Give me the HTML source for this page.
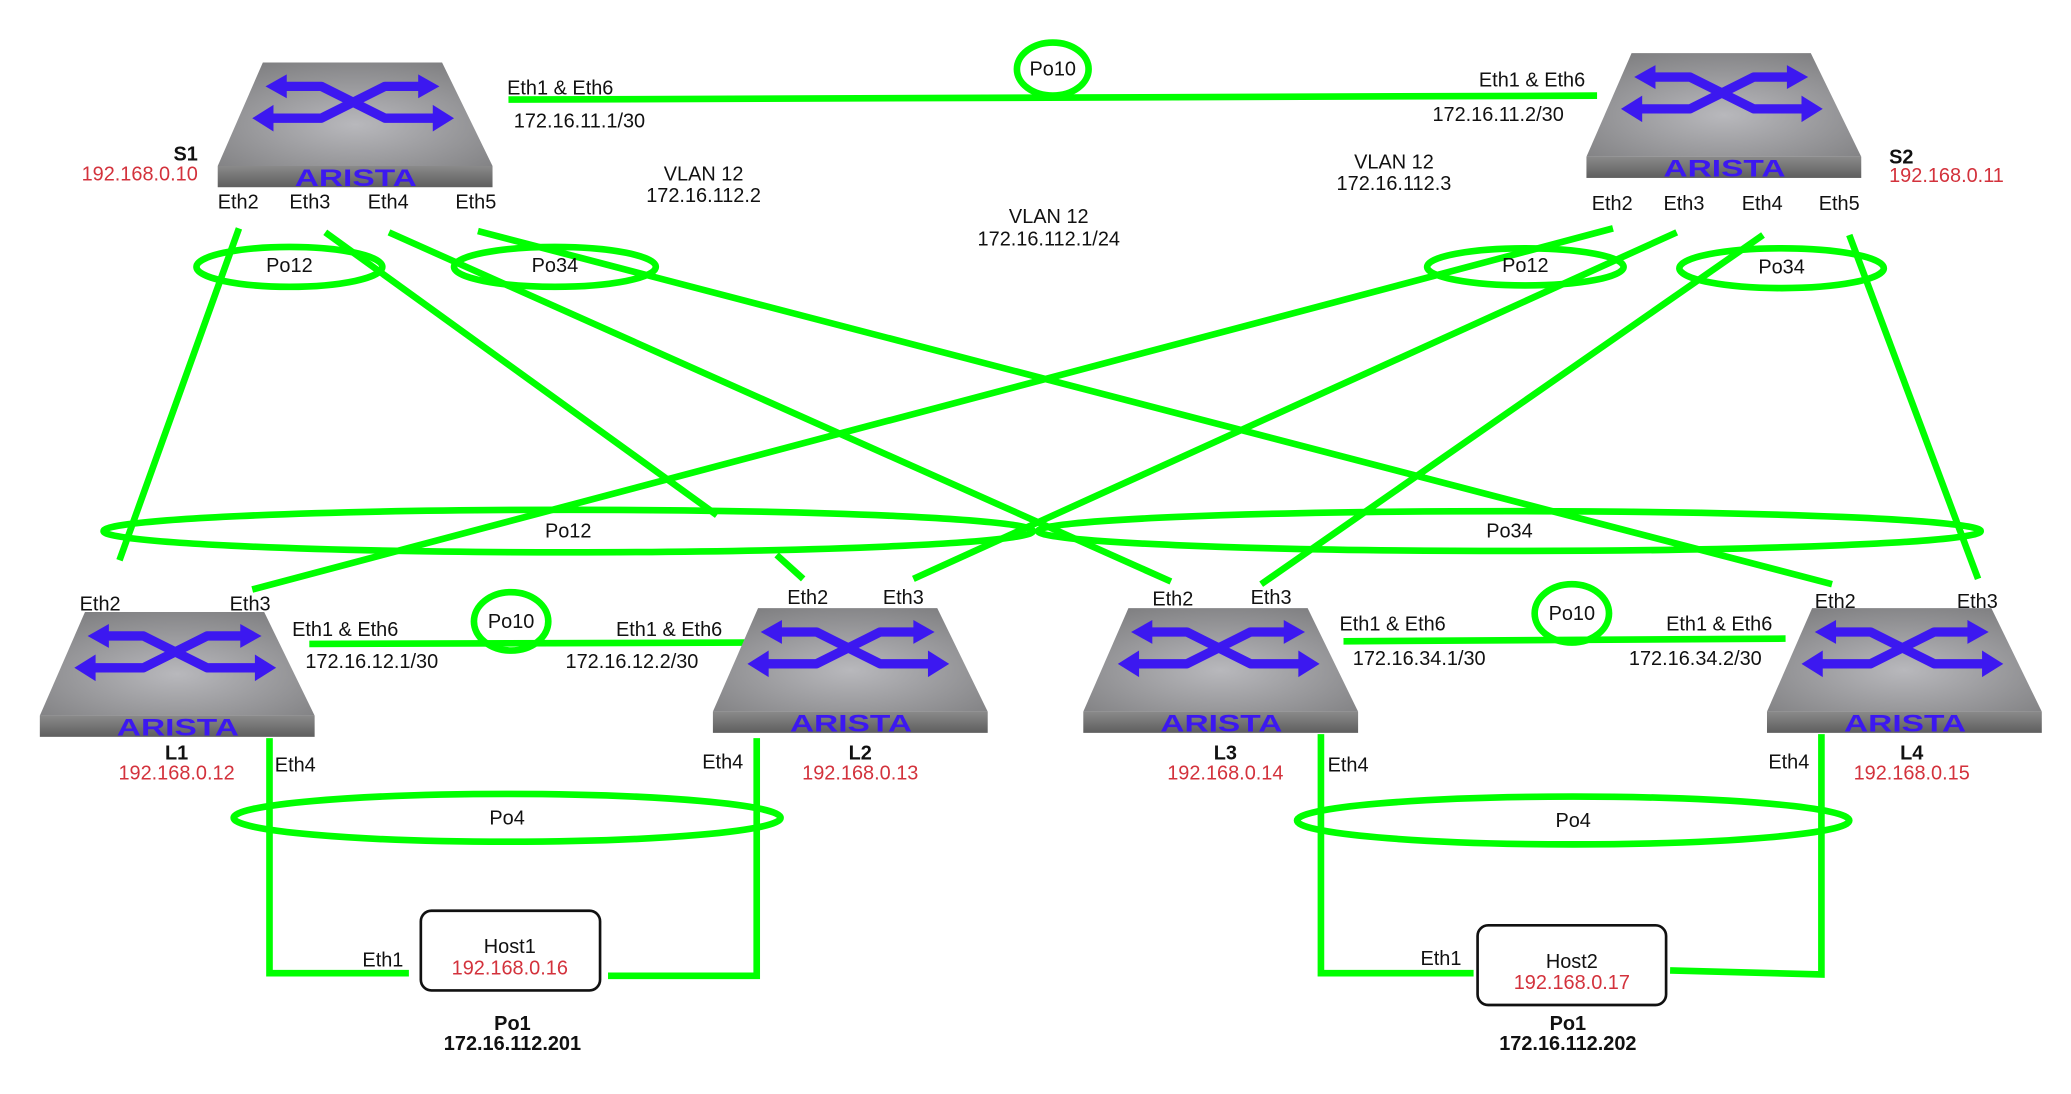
<!DOCTYPE html>
<html><head><meta charset="utf-8"><style>
html,body{margin:0;padding:0;background:#fff;}
svg{display:block;}
text{font-family:"Liberation Sans",Arial,sans-serif;font-size:15px;fill:#111;}
.r{fill:#d3323c;}
.b{font-weight:bold;}
.g{stroke:#00ff00;stroke-width:5;fill:none;}
</style></head><body>
<svg width="2071" height="1094" viewBox="0 0 1560 824" xmlns="http://www.w3.org/2000/svg">
<defs>
<radialGradient id="tg" cx="0.5" cy="0.6" r="0.7">
<stop offset="0" stop-color="#b8b8bc"/><stop offset="1" stop-color="#7e7e80"/>
</radialGradient>
<linearGradient id="fg" x1="0" y1="0" x2="0" y2="1">
<stop offset="0" stop-color="#8a8a8a"/><stop offset="1" stop-color="#5e5e5e"/>
</linearGradient>
<g id="sw">
<polygon points="34,-78 169,-78 207,0 0,0" fill="url(#tg)"/>
<rect x="0" y="0" width="207" height="16" fill="url(#fg)"/>
<g stroke="#3c18f0" stroke-width="7" fill="none" stroke-linejoin="round">
<polyline points="48,-60 78,-60 126,-36 166,-36"/>
<polyline points="38,-36 78,-36 126,-60 155,-60"/>
</g>
<g fill="#3c18f0">
<polygon points="36,-60 52,-69 52,-51"/>
<polygon points="167,-60 151,-69 151,-51"/>
<polygon points="26,-36 42,-46 42,-26"/>
<polygon points="178,-36 162,-46 162,-26"/>
</g>
<text x="58" y="15" textLength="92" lengthAdjust="spacingAndGlyphs" style="font-size:18px;font-weight:bold;fill:#3c18f0">ARISTA</text>
</g>
</defs>

<line class="g" x1="383" y1="75" x2="1203" y2="72"/>
<ellipse class="g" cx="793" cy="52" rx="27" ry="20"/>
<line class="g" x1="180" y1="172" x2="90" y2="422"/>
<line class="g" x1="245" y1="175" x2="540" y2="388"/>
<line class="g" x1="585" y1="418" x2="605" y2="436"/>
<line class="g" x1="293" y1="175" x2="882" y2="438"/>
<line class="g" x1="360" y1="174" x2="1380" y2="440"/>
<line class="g" x1="1215" y1="172" x2="190" y2="444"/>
<line class="g" x1="1263" y1="175" x2="688" y2="436"/>
<line class="g" x1="1328" y1="177" x2="950" y2="440"/>
<line class="g" x1="1393" y1="177" x2="1490" y2="436"/>
<ellipse class="g" cx="218" cy="201" rx="70" ry="15"/>
<ellipse class="g" cx="418" cy="201" rx="76" ry="15"/>
<ellipse class="g" cx="1149" cy="201" rx="74" ry="14"/>
<ellipse class="g" cx="1342" cy="202" rx="77" ry="15"/>
<ellipse class="g" cx="428" cy="400" rx="350" ry="16"/>
<ellipse class="g" cx="1137" cy="400" rx="355" ry="15"/>
<line class="g" x1="233" y1="485" x2="563" y2="484"/>
<ellipse class="g" cx="385" cy="468" rx="28" ry="22" fill="#fff"/>
<line class="g" x1="1012" y1="483" x2="1345" y2="481"/>
<ellipse class="g" cx="1184" cy="462" rx="28" ry="22" fill="#fff"/>
<polyline class="g" points="203,556 203,733 308,733"/>
<polyline class="g" points="570,556 570,735 458,735"/>
<polyline class="g" points="995,553 995,733 1110,733"/>
<polyline class="g" points="1372,553 1372,734 1258,731"/>
<ellipse class="g" cx="382" cy="616" rx="206" ry="18"/>
<ellipse class="g" cx="1185" cy="618" rx="208" ry="18"/>

<use href="#sw" x="164" y="125"/>
<use href="#sw" x="1195" y="118"/>
<use href="#sw" x="30" y="539"/>
<use href="#sw" x="537" y="536"/>
<use href="#sw" x="816" y="536"/>
<use href="#sw" x="1331" y="536"/>

<rect x="317" y="686" width="135" height="60" rx="8" fill="#fff" stroke="#111" stroke-width="2"/>
<text x="384" y="718" text-anchor="middle">Host1</text>
<text x="384" y="734" text-anchor="middle" class="r">192.168.0.16</text>
<rect x="1113" y="697" width="142" height="60" rx="8" fill="#fff" stroke="#111" stroke-width="2"/>
<text x="1184" y="729" text-anchor="middle">Host2</text>
<text x="1184" y="745" text-anchor="middle" class="r">192.168.0.17</text>

<text x="793" y="57" text-anchor="middle">Po10</text>
<text x="382" y="71">Eth1 &amp; Eth6</text>
<text x="387" y="96">172.16.11.1/30</text>
<text x="1114" y="65">Eth1 &amp; Eth6</text>
<text x="1079" y="91">172.16.11.2/30</text>
<text x="149" y="121" text-anchor="end" class="b">S1</text>
<text x="149" y="136" text-anchor="end" class="r">192.168.0.10</text>
<text x="1423" y="123" class="b">S2</text>
<text x="1423" y="137" class="r">192.168.0.11</text>
<text x="164" y="157">Eth2</text><text x="218" y="157">Eth3</text><text x="277" y="157">Eth4</text><text x="343" y="157">Eth5</text>
<text x="1199" y="158">Eth2</text><text x="1253" y="158">Eth3</text><text x="1312" y="158">Eth4</text><text x="1370" y="158">Eth5</text>
<text x="530" y="136" text-anchor="middle">VLAN 12</text>
<text x="530" y="152" text-anchor="middle">172.16.112.2</text>
<text x="1050" y="127" text-anchor="middle">VLAN 12</text>
<text x="1050" y="143" text-anchor="middle">172.16.112.3</text>
<text x="790" y="168" text-anchor="middle">VLAN 12</text>
<text x="790" y="185" text-anchor="middle">172.16.112.1/24</text>
<text x="218" y="205" text-anchor="middle">Po12</text>
<text x="418" y="205" text-anchor="middle">Po34</text>
<text x="1149" y="205" text-anchor="middle">Po12</text>
<text x="1342" y="206" text-anchor="middle">Po34</text>
<text x="428" y="405" text-anchor="middle">Po12</text>
<text x="1137" y="405" text-anchor="middle">Po34</text>
<text x="60" y="460">Eth2</text><text x="173" y="460">Eth3</text>
<text x="593" y="455">Eth2</text><text x="665" y="455">Eth3</text>
<text x="868" y="456">Eth2</text><text x="942" y="455">Eth3</text>
<text x="1367" y="458">Eth2</text><text x="1474" y="458">Eth3</text>
<text x="385" y="473" text-anchor="middle">Po10</text>
<text x="220" y="479">Eth1 &amp; Eth6</text>
<text x="230" y="503">172.16.12.1/30</text>
<text x="464" y="479">Eth1 &amp; Eth6</text>
<text x="426" y="503">172.16.12.2/30</text>
<text x="1184" y="467" text-anchor="middle">Po10</text>
<text x="1009" y="475">Eth1 &amp; Eth6</text>
<text x="1019" y="501">172.16.34.1/30</text>
<text x="1255" y="475">Eth1 &amp; Eth6</text>
<text x="1227" y="501">172.16.34.2/30</text>
<text x="133" y="572" text-anchor="middle" class="b">L1</text>
<text x="133" y="587" text-anchor="middle" class="r">192.168.0.12</text>
<text x="648" y="572" text-anchor="middle" class="b">L2</text>
<text x="648" y="587" text-anchor="middle" class="r">192.168.0.13</text>
<text x="923" y="572" text-anchor="middle" class="b">L3</text>
<text x="923" y="587" text-anchor="middle" class="r">192.168.0.14</text>
<text x="1440" y="572" text-anchor="middle" class="b">L4</text>
<text x="1440" y="587" text-anchor="middle" class="r">192.168.0.15</text>
<text x="207" y="581">Eth4</text>
<text x="529" y="579">Eth4</text>
<text x="1000" y="581">Eth4</text>
<text x="1332" y="579">Eth4</text>
<text x="382" y="621" text-anchor="middle">Po4</text>
<text x="1185" y="623" text-anchor="middle">Po4</text>
<text x="273" y="728">Eth1</text>
<text x="1070" y="727">Eth1</text>
<text x="386" y="776" text-anchor="middle" class="b">Po1</text>
<text x="386" y="791" text-anchor="middle" class="b">172.16.112.201</text>
<text x="1181" y="776" text-anchor="middle" class="b">Po1</text>
<text x="1181" y="791" text-anchor="middle" class="b">172.16.112.202</text>
</svg>
</body></html>
